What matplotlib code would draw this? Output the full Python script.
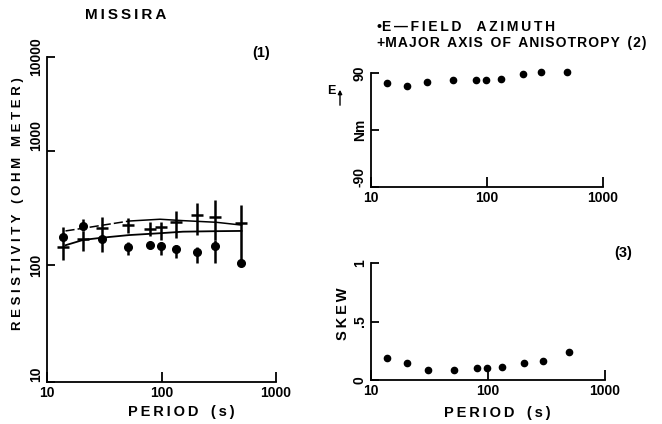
import numpy as np
import matplotlib
matplotlib.use('Agg')
import matplotlib.pyplot as plt
from matplotlib.ticker import FixedLocator, NullLocator, FixedFormatter

plt.rcParams['font.family'] = ['Liberation Sans', 'DejaVu Sans']
plt.rcParams['font.weight'] = 'bold'

# Sounding periods (s)
period = [13.8, 20.5, 30.5, 51, 80, 99, 133, 205, 295, 490]

# Apparent resistivity, E-field direction (dots) with bar limits
rho_e = [175, 220, 168, 145, 150, 148, 137, 129, 148, 105]
rho_e_lo = [165, 200, 131, 122, 140, 122, 115, 105, 104, 105]
rho_e_hi = [217, 253, 172, 160, 158, 160, 150, 145, 166, 105]

# Apparent resistivity along major axis of anisotropy (crosses)
rho_a = [145, 168, 210, 224, 205, 217, 240, 275, 262, 232]
rho_a_lo = [111, 133, 172, 191, 180, 166, 172, 183, 166, 105]
rho_a_hi = [175, 200, 265, 260, 240, 240, 299, 351, 372, 336]

# Model curves
curve_period = [14.5, 20.7, 31, 52, 97, 154, 300, 500]
curve_upper = [199, 210, 224, 243, 252, 245, 237, 224]
curve_lower = [149, 166, 174, 183, 190, 196, 198, 199]

# E-field azimuth (degrees from magnetic north) and skew
azimuth = [73.5, 69.3, 76.1, 78.6, 79.7, 79.7, 81.2, 88.9, 91, 91]
skew = [0.19, 0.143, 0.086, 0.086, 0.10, 0.105, 0.114, 0.143, 0.165, 0.243]

W, H = 662, 424


def fx(px):
    return px / W


def fy(py):
    return 1 - py / H


def axes_box(x0, y0, x1, y1):
    return [fx(x0), fy(y1), (x1 - x0) / W, (y1 - y0) / H]


def spaced(s, gap=' ', word_gap='   '):
    # letter-spaced caps like the old plotter lettering
    return word_gap.join(gap.join(w) for w in s.split(' '))


# the printed resistivity axis has uneven decades
dec_log = [0, 1, 2, 3, 4, 5]
dec_pos = [-117, 0, 117, 231, 325, 419]


def rho_fwd(v):
    return np.interp(np.log10(np.clip(v, 1e-6, None)), dec_log, dec_pos)


def rho_inv(u):
    return 10 ** np.interp(u, dec_pos, dec_log)


fig = plt.figure(figsize=(W / 100, H / 100), dpi=100)

lw = 1.3
tick_kw = dict(direction='in', width=lw, labelsize=10, pad=3)


def style(ax, low_labels=()):
    for s in ['top', 'right']:
        ax.spines[s].set_visible(False)
    for s in ['left', 'bottom']:
        ax.spines[s].set_linewidth(lw)
    ax.set_xscale('log')
    ax.set_xlim(10, 1000)
    ax.xaxis.set_major_locator(FixedLocator([10, 100, 1000]))
    ax.xaxis.set_major_formatter(FixedFormatter(['10', '100', '1000']))
    ax.xaxis.set_minor_locator(NullLocator())
    ax.tick_params(axis='x', length=7, **tick_kw)
    ax.tick_params(axis='y', length=6, **tick_kw)
    fig.canvas.draw()
    for lab in ax.get_yticklabels():
        lab.set_rotation(90)
        lab.set_va('bottom' if lab.get_text() in low_labels else 'center')
    ax.patch.set_alpha(0)


# (1) resistivity
ax1 = fig.add_axes(axes_box(47, 57, 276, 382))
ax1.set_yscale('function', functions=(rho_fwd, rho_inv))
ax1.set_ylim(10, 10000)
ax1.yaxis.set_major_locator(FixedLocator([10, 100, 1000, 10000]))
ax1.yaxis.set_major_formatter(FixedFormatter(['10', '100', '1000', '10000']))
ax1.yaxis.set_minor_locator(NullLocator())
style(ax1, low_labels=('10', '1000'))

ax1.plot(curve_period[:4], curve_upper[:4], color='k', lw=1.1, ls=(0, (6, 2)))
ax1.plot(curve_period[3:], curve_upper[3:], color='k', lw=1.1)
ax1.plot(curve_period, curve_lower, color='k', lw=1.3)

ea = np.array(rho_a)
ee = np.array(rho_e)
ax1.errorbar(period, rho_a, yerr=[ea - np.array(rho_a_lo), np.array(rho_a_hi) - ea],
             fmt='_', color='k', ms=9, mew=1.8, elinewidth=1.8, capsize=0)
ax1.errorbar(period, rho_e, yerr=[ee - np.array(rho_e_lo), np.array(rho_e_hi) - ee],
             fmt='o', color='k', ms=5.5, elinewidth=1.8, capsize=0)

# (2) azimuth
ax2 = fig.add_axes(axes_box(371, 73, 603, 187))
ax2.set_ylim(-90, 90)
ax2.yaxis.set_major_locator(FixedLocator([-90, 0, 90]))
ax2.yaxis.set_major_formatter(FixedFormatter(['-90', 'Nm', '90']))
style(ax2, low_labels=('-90',))
ax2.plot(period, azimuth, 'o', color='k', ms=4.5, clip_on=False)

# (3) skew
ax3 = fig.add_axes(axes_box(371, 263, 605, 380))
ax3.set_ylim(0, 1)
ax3.yaxis.set_major_locator(FixedLocator([0, 0.5, 1]))
ax3.yaxis.set_major_formatter(FixedFormatter(['0', '.5', '1']))
style(ax3)
ax3.plot(period, skew, 'o', color='k', ms=4.5, clip_on=False)

# annotations
txt = dict(color='k', fontweight='bold', transform=fig.transFigure)
fig.text(fx(126), fy(15), spaced('MISSIRA', '\u2009'), fontsize=11, ha='center', va='center', **txt)
fig.text(fx(261), fy(53), '(1)', fontsize=10.5, ha='center', va='center', **txt)
fig.text(fx(18), fy(204), spaced('RESISTIVITY (OHM METER)'), fontsize=9.5,
         rotation=90, ha='center', va='center', **txt)
fig.text(fx(181), fy(412), spaced('PERIOD (s)', '\u2009'), fontsize=10.5, ha='center', va='center', **txt)

fig.text(fx(377), fy(27), '\u2022' + spaced('E\u2014FIELD  AZIMUTH', '\u2009', '  '), fontsize=10,
         ha='left', va='center', **txt)
fig.text(fx(377), fy(43), '+' + spaced('MAJOR AXIS OF ANISOTROPY (2)', '\u200a', '  '), fontsize=10,
         ha='left', va='center', **txt)
fig.text(fx(331), fy(91), 'E', fontsize=9, ha='center', va='center', **txt)
ax2.annotate('', xy=(fx(340), fy(87)), xytext=(fx(340), fy(108)),
             xycoords='figure fraction', textcoords='figure fraction', annotation_clip=False,
             arrowprops=dict(arrowstyle='-|>', color='k', lw=1.0, mutation_scale=6))

fig.text(fx(623), fy(253), '(3)', fontsize=10.5, ha='center', va='center', **txt)
fig.text(fx(343), fy(314), spaced('SKEW', '\u2009'), fontsize=10.5, rotation=90, ha='center', va='center', **txt)
fig.text(fx(497), fy(413), spaced('PERIOD (s)', '\u2009'), fontsize=10.5, ha='center', va='center', **txt)

fig.savefig('out.png', dpi=100)
